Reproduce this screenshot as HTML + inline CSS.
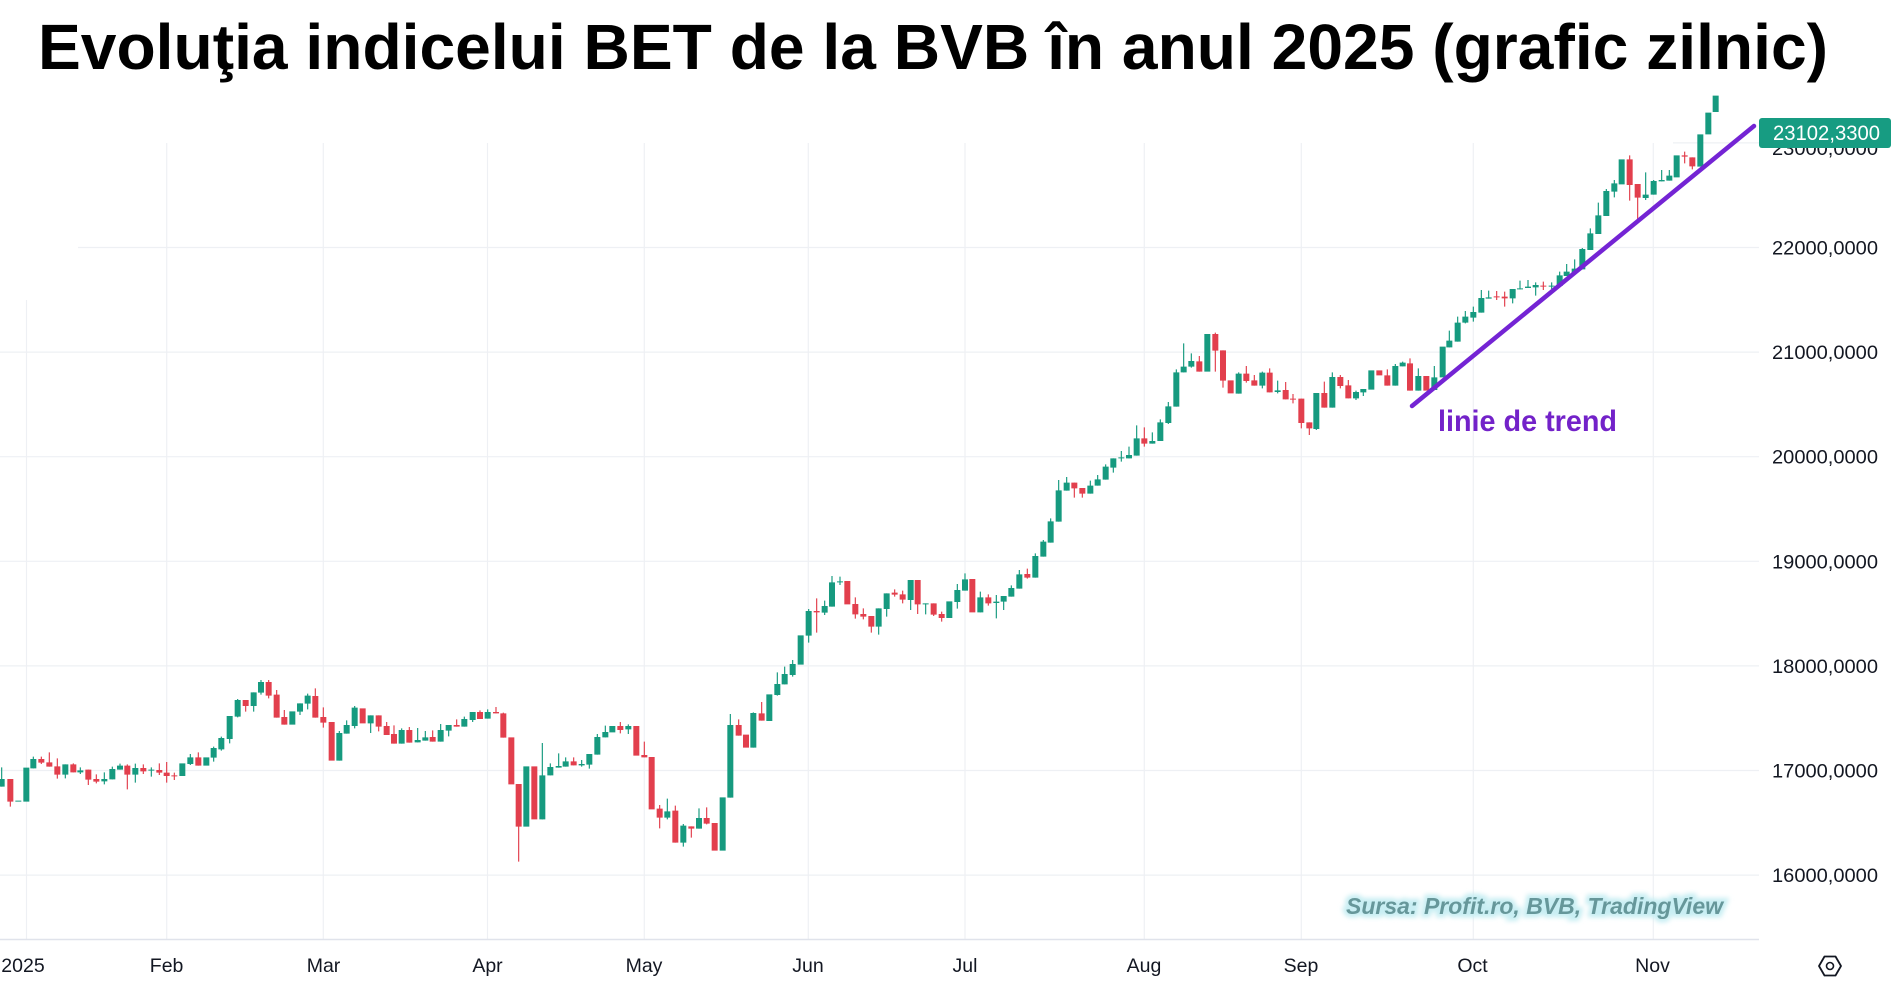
<!DOCTYPE html>
<html>
<head>
<meta charset="utf-8">
<style>
html,body{margin:0;padding:0;background:#fff;}
svg{display:block}
.t{font-family:"Liberation Sans",Arial,sans-serif;}
</style>
</head>
<body>
<svg width="1893" height="985" viewBox="0 0 1893 985" xmlns="http://www.w3.org/2000/svg">
<defs>
<filter id="glow" x="-10%" y="-50%" width="120%" height="200%"><feGaussianBlur stdDeviation="2.5"/></filter>
</defs>
<rect width="1893" height="985" fill="#fff"/>
<!-- grid -->
<g stroke="#eef0f4" stroke-width="1.2">
<line x1="26.5" y1="300" x2="26.5" y2="939"/>
<line x1="166.7" y1="143" x2="166.7" y2="939"/>
<line x1="323.3" y1="143" x2="323.3" y2="939"/>
<line x1="487.5" y1="143" x2="487.5" y2="939"/>
<line x1="644.3" y1="143" x2="644.3" y2="939"/>
<line x1="808.3" y1="143" x2="808.3" y2="939"/>
<line x1="965" y1="143" x2="965" y2="939"/>
<line x1="1144.3" y1="143" x2="1144.3" y2="939"/>
<line x1="1301.3" y1="143" x2="1301.3" y2="939"/>
<line x1="1473.3" y1="143" x2="1473.3" y2="939"/>
<line x1="1653.3" y1="143" x2="1653.3" y2="939"/>
<line x1="0" y1="875.1" x2="1759" y2="875.1"/>
<line x1="0" y1="770.5" x2="1759" y2="770.5"/>
<line x1="0" y1="665.9" x2="1759" y2="665.9"/>
<line x1="0" y1="561.3" x2="1759" y2="561.3"/>
<line x1="0" y1="456.7" x2="1759" y2="456.7"/>
<line x1="0" y1="352.1" x2="1759" y2="352.1"/>
<line x1="78" y1="247.5" x2="1759" y2="247.5"/>
<line x1="1673" y1="142.9" x2="1759" y2="142.9"/>
</g>
<line x1="0" y1="939.5" x2="1759" y2="939.5" stroke="#e0e3eb" stroke-width="1.5"/>

<!-- candles group 1 -->
<g transform="translate(0,660) scale(0.33333)" fill="none">
<path stroke="#169a7f" stroke-width="3.5" d="M5 322V380M100 290V325M196 313V355M241 322V342M313 337V373M337 320V358M360 311V329M406 311V368M454 322V350M571 282V315M641 260V305M664 230V272M689 168V250M713 117V172M761 97V155M783 60V104M900 130V165M923 101V148M1018 213V302M1040 181V221M1064 138V205M1112 166V219M1205 205V251M1253 204V247M1276 213V242M1322 192V245M1346 195V229M1393 170V200M1418 156V186M1463 148V176"/>
<path stroke="#169a7f" stroke-width="18" d="M5 357V380M55 422V425M79 323V425M100 297V325M196 313V344M241 331V337M313 357V364M337 327V358M360 317V329M406 324V344M454 329V332M547 310V348M571 292V312M619 292V317M641 264V293M664 234V268M689 168V237M713 120V170M761 97V138M783 66V98M877 154V194M900 130V155M923 107V131M1018 219V302M1040 195V221M1064 143V198M1112 166V190M1205 210V251M1253 240V247M1276 232V242M1322 210V245M1346 195V212M1393 177V200M1418 156V180M1463 156V176"/>
<path stroke="#e23f4d" stroke-width="3.5" d="M31 357V440M124 290V312M148 277V320M172 295V356M220 310V337M265 329V375M289 343V370M382 313V388M430 313V342M478 310V345M500 306V368M523 338V360M595 277V317M737 120V155M806 60V115M830 90V173M853 150V194M946 85V173M970 142V203M1136 166V214M1160 186V225M1182 196V251M1228 201V248M1298 211V245M1370 178V200M1440 151V177M1488 141V160"/>
<path stroke="#e23f4d" stroke-width="18" d="M31 357V425M124 297V308M148 307V320M172 319V344M220 313V337M265 329V359M289 357V365M382 317V344M430 324V334M478 330V338M500 338V348M523 346V349M595 292V317M737 120V138M806 66V107M830 104V173M853 171V194M946 108V173M970 171V188M995 186V302M1088 145V190M1136 166V200M1160 198V225M1182 222V251M1228 210V248M1298 231V245M1370 195V200M1440 156V177M1488 156V160"/>
</g>

<!-- candles group 2 -->
<g transform="translate(480,560) scale(0.33333)" fill="none">
<path stroke="#169a7f" stroke-width="3.5" d="M187 549V778M211 610V646M236 580V623M257 592V620M305 600V620M328 582V626M352 522V584M376 497V532M445 493V522M562 716V778M610 792V860M657 745V806M751 462V713M820 457V563M892 337V407M914 320V373M938 300V350M986 147V248M1034 122V165M1056 48V140M1080 50V75M1196 145V224M1220 100V170M1292 60V150M1337 130V163M1432 72V146M1455 40V92"/>
<path stroke="#169a7f" stroke-width="18" d="M139 619V800M187 646V778M211 621V646M236 618V623M257 604V620M305 612V616M328 582V614M352 531V584M376 516V532M397 498V517M445 498V508M562 754V773M610 797V848M657 774V806M728 712V872M751 495V713M820 459V563M868 403V483M892 372V405M914 342V373M938 312V345M962 226V314M986 153V227M1034 138V158M1056 67V140M1080 64V67M1196 145V200M1220 100V147M1292 60V120M1337 130V133M1408 124V174M1432 90V126M1455 58V92"/>
<path stroke="#e23f4d" stroke-width="3.5" d="M70 458V533M116 672V905M281 592V616M421 486V520M493 545V592M539 735V805M586 737V848M634 799V833M680 742V793M776 478V527M845 426V482M1010 115V218M1126 112V176M1150 145V178M1174 168V218M1244 88V110M1268 92V130M1313 60V162M1361 130V168M1385 155V185"/>
<path stroke="#e23f4d" stroke-width="18" d="M70 460V533M94 532V673M116 672V800M163 619V778M281 604V616M421 498V510M469 498V587M493 585V592M515 591V748M539 746V773M586 752V848M634 799V806M680 774V791M704 789V872M776 495V527M798 524V563M845 460V482M1010 153V157M1102 63V133M1126 132V163M1150 162V170M1174 168V200M1244 98V104M1268 103V119M1313 60V133M1361 130V164M1385 162V174"/>
</g>

<!-- candles group 3 -->
<g transform="translate(960,320) scale(0.33333)" fill="none">
<path stroke="#169a7f" stroke-width="3.5" d="M61 815V877M109 825V895M131 828V870M154 796V830M178 750V806M226 700V773M250 660V710M272 595V668M296 480V605M320 471V512M391 482V521M413 465V497M437 433V479M460 415V458M484 393V425M507 380V415M530 316V407M577 337V371M601 298V363M625 246V312M649 148V260M671 70V157M694 100V143M836 157V221M907 155V205M953 182V220M1069 219V330M1117 157V263M1188 212V240M1210 207V228M1306 132V197M1328 125V139"/>
<path stroke="#169a7f" stroke-width="18" d="M61 832V877M109 845V849M131 828V845M154 804V830M178 763V806M226 708V773M250 665V710M272 604V668M296 511V605M320 488V512M391 497V521M413 478V497M437 440V479M460 415V443M484 412V415M507 405V415M530 355V407M577 363V371M601 307V363M625 259V309M649 157V260M671 140V157M694 123V140M742 42V155M836 161V221M907 158V197M953 211V216M1069 219V327M1117 171V263M1188 216V235M1210 207V217M1234 151V209M1306 138V197M1328 128V139"/>
<path stroke="#e23f4d" stroke-width="3.5" d="M85 823V857M202 746V776M343 488V533M367 504V533M553 322V380M718 108V155M766 38V155M789 91V203M859 138V188M883 165V197M929 145V217M977 186V238M999 222V250M1024 236V325M1048 307V345M1093 185V263M1141 165V205M1165 180V235M1282 148V197"/>
<path stroke="#e23f4d" stroke-width="18" d="M37 777V877M85 832V850M202 762V773M343 488V505M367 504V521M553 355V371M718 124V155M766 42V92M789 91V182M812 181V220M859 161V183M883 181V197M929 158V217M977 210V238M999 236V239M1024 236V309M1048 307V325M1093 219V263M1141 171V198M1165 196V235M1258 151V166M1282 166V197"/>
</g>

<!-- candles group 4 -->
<g transform="translate(1400,90) scale(0.33333)" fill="none">
<path stroke="#169a7f" stroke-width="3.5" d="M55 835V902M103 828V900M148 722V772M173 680V755M196 663V700M220 650V695M244 600V668M266 602V626M338 597V640M360 572V598M384 570V594M407 577V617M455 577V597M479 545V588M500 522V558M524 508V548M547 474V538M571 415V480M595 338V432M619 297V378M643 270V322M737 247V330M761 270V314M785 240V274M808 240V272"/>
<path stroke="#169a7f" stroke-width="18" d="M55 858V902M103 862V900M128 770V862M148 752V772M173 698V755M196 680V698M220 666V683M244 624V668M266 622V626M338 597V625M360 595V598M384 590V594M407 585V592M455 587V590M479 556V588M500 545V558M524 536V548M547 477V538M571 430V480M595 376V432M619 303V378M643 280V305M665 208V283M737 314V324M761 273V314M785 270V274M808 257V272M830 196V262M901 133V230M925 68V133M947 17V66"/>
<path stroke="#e23f4d" stroke-width="3.5" d="M30 805V902M290 603V630M314 605V650M430 575V600M689 196V332M713 282V390M854 185V220M877 202V238"/>
<path stroke="#e23f4d" stroke-width="18" d="M30 820V902M79 858V902M290 619V622M314 620V625M430 587V590M689 208V285M713 282V323M854 196V200M877 202V229"/>
</g>

<!-- trend line -->
<line x1="1412" y1="406" x2="1754" y2="126" stroke="#7424d4" stroke-width="4.5" stroke-linecap="round"/>
<text class="t" x="1438" y="431" font-size="30" font-weight="bold" fill="#7322c9" textLength="179" lengthAdjust="spacingAndGlyphs">linie de trend</text>

<!-- price axis labels -->
<g class="t" font-size="19.5" fill="#131722">
<text x="1772" y="155" textLength="106" lengthAdjust="spacingAndGlyphs">23000,0000</text>
<text x="1772" y="254.5" textLength="106" lengthAdjust="spacingAndGlyphs">22000,0000</text>
<text x="1772" y="359" textLength="106" lengthAdjust="spacingAndGlyphs">21000,0000</text>
<text x="1772" y="463.7" textLength="106" lengthAdjust="spacingAndGlyphs">20000,0000</text>
<text x="1772" y="568.3" textLength="106" lengthAdjust="spacingAndGlyphs">19000,0000</text>
<text x="1772" y="672.9" textLength="106" lengthAdjust="spacingAndGlyphs">18000,0000</text>
<text x="1772" y="777.5" textLength="106" lengthAdjust="spacingAndGlyphs">17000,0000</text>
<text x="1772" y="882.1" textLength="106" lengthAdjust="spacingAndGlyphs">16000,0000</text>
</g>
<!-- price badge -->
<rect x="1759" y="118" width="132" height="30" rx="3" fill="#179c82"/>
<text class="t" x="1773" y="140" font-size="21" fill="#fff" textLength="107" lengthAdjust="spacingAndGlyphs">23102,3300</text>

<!-- time axis labels -->
<g class="t" font-size="19.5" fill="#131722" text-anchor="middle">
<text x="23" y="972">2025</text>
<text x="166.6" y="972">Feb</text>
<text x="323.5" y="972">Mar</text>
<text x="487.5" y="972">Apr</text>
<text x="644" y="972">May</text>
<text x="808" y="972">Jun</text>
<text x="965" y="972">Jul</text>
<text x="1144" y="972">Aug</text>
<text x="1301" y="972">Sep</text>
<text x="1472.5" y="972">Oct</text>
<text x="1652.5" y="972">Nov</text>
</g>
<!-- settings icon -->
<polygon points="1819,966 1824.5,956.5 1835.5,956.5 1841,966 1835.5,975.5 1824.5,975.5" fill="none" stroke="#131722" stroke-width="1.8" stroke-linejoin="round"/>
<circle cx="1830" cy="966" r="3.5" fill="none" stroke="#131722" stroke-width="1.6"/>

<!-- watermark -->
<text class="t" x="1346" y="914" font-size="23.5" font-weight="bold" font-style="italic" fill="none" stroke="#c8eef3" stroke-width="7" filter="url(#glow)" textLength="377" lengthAdjust="spacingAndGlyphs">Sursa: Profit.ro, BVB, TradingView</text>
<text class="t" x="1346" y="914" font-size="23.5" font-weight="bold" font-style="italic" fill="#66979a" textLength="377" lengthAdjust="spacingAndGlyphs">Sursa: Profit.ro, BVB, TradingView</text>

<!-- title -->
<text class="t" x="38" y="69" font-size="64" font-weight="bold" fill="#000" textLength="1790" lengthAdjust="spacingAndGlyphs">Evoluţia indicelui BET de la BVB în anul 2025 (grafic zilnic)</text>
</svg>
</body>
</html>
